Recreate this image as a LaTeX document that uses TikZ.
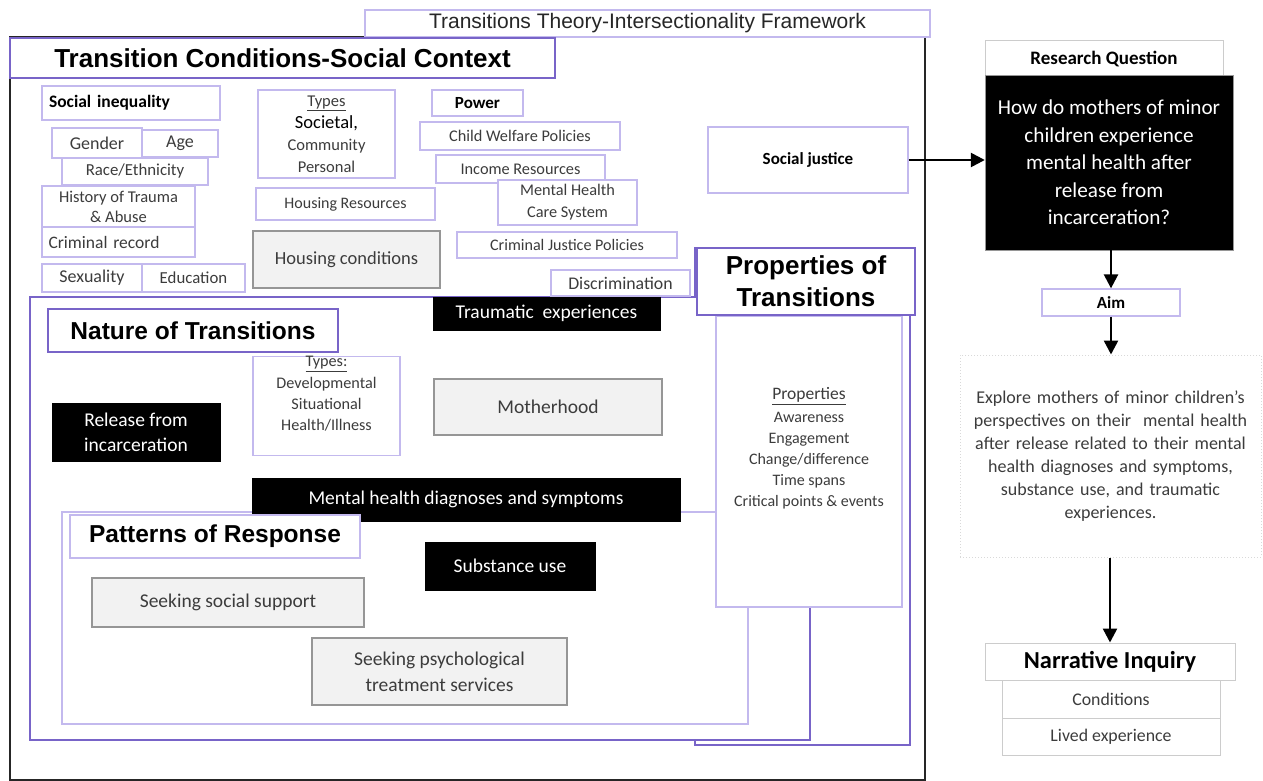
\documentclass[tikz,border=0pt]{standalone}
\usepackage{fontspec}
\setmainfont{Carlito}
\newfontfamily\arialf{Liberation Sans}
\usetikzlibrary{arrows.meta}
\definecolor{purp}{RGB}{120,100,200}
\definecolor{lpurp}{RGB}{195,185,238}
\definecolor{gfill}{RGB}{242,242,242}
\definecolor{gline}{RGB}{150,150,150}
\definecolor{gtext}{RGB}{60,60,60}
\tikzset{
    >={Triangle[length=14pt,width=14pt]}, % filled arrow heads
    frame/.style={draw=black!85, line width=2.5pt},
    head/.style={draw=purp, line width=2.5pt, fill=white, inner sep=0pt, align=center, font=\arialf\bfseries\fontsize{26}{32}\selectfont},
    box/.style={draw=lpurp, line width=1.3pt, fill=white, inner sep=0pt, align=center, text=gtext},
    blk/.style={draw=black, fill=black, text=white, inner sep=0pt, align=center, font=\fontsize{19.5}{25}\selectfont},
    gry/.style={draw=gline, line width=1.5pt, fill=gfill, inner sep=0pt, align=center, text=gtext, font=\fontsize{19.5}{26}\selectfont},
    side/.style={draw=black!20, line width=1pt, fill=white, inner sep=0pt, align=center},
    link/.style={->, line width=2.5pt},
}
\begin{document}
\begin{tikzpicture}[x=1pt, y=-1pt]
    \useasboundingbox (0,0) rectangle (1263,781);

    % framework frames
    \draw[frame] (10,37) rectangle (925,780);
    \draw[draw=purp, line width=2pt] (695,248) rectangle (910,745);
    \draw[draw=purp, line width=2pt, fill=white] (30,297) rectangle (810,740);
    \draw[draw=lpurp, line width=1.5pt, fill=white] (62,512) rectangle (748,724);

    \node[box, draw=lpurp, minimum width=565pt, minimum height=27pt, text=black!85, font=\arialf\fontsize{21}{22}\selectfont] (fw) at (647.5,23.5) {Transitions Theory-Intersectionality Framework};
    \node[head, minimum width=545pt, minimum height=40pt] (ctx) at (282.5,58) {Transition Conditions-Social Context};

    % social context
    \node[box, minimum width=178pt, minimum height=34pt, text width=164pt, align=left, text=black, font=\bfseries\fontsize{17.5}{20}\selectfont] (ineq) at (131,103) {Social inequality};
    \node[box, minimum width=90pt, minimum height=30pt, font=\fontsize{18}{20}\selectfont] (gender) at (97,143) {Gender};
    \node[box, minimum width=76pt, minimum height=27pt, font=\fontsize{18}{20}\selectfont] (age) at (180,143.5) {Age};
    \node[box, minimum width=146pt, minimum height=27pt, font=\fontsize{16.8}{20}\selectfont] (race) at (135,171.5) {Race/Ethnicity};
    \node[box, minimum width=153pt, minimum height=41pt, font=\fontsize{16.5}{20}\selectfont] (trauma) at (118.5,206.5) {History of Trauma\\ \& Abuse};
    \node[box, minimum width=153pt, minimum height=30pt, text width=140pt, align=left, font=\fontsize{17.5}{20}\selectfont] (record) at (118.5,242) {Criminal record};
    \node[box, minimum width=100pt, minimum height=28pt, font=\fontsize{18}{20}\selectfont] (sex) at (92,278) {Sexuality};
    \node[box, minimum width=103pt, minimum height=28pt, font=\fontsize{16.8}{20}\selectfont] (edu) at (193.5,278) {Education};

    \node[box, minimum width=137pt, minimum height=88pt, font=\fontsize{16.5}{22}\selectfont] (levels) at (326.5,134) {\underline{Types}\\ {\fontsize{18.5}{22}\selectfont\color{black}Societal,}\\ Community\\ Personal};
    \node[box, minimum width=179pt, minimum height=32pt, font=\fontsize{16}{20}\selectfont] (housres) at (345.5,204) {Housing Resources};
    \node[gry, minimum width=187pt, minimum height=57pt, font=\fontsize{18.5}{22}\selectfont] (houscond) at (346.5,259.5) {Housing conditions};

    \node[box, minimum width=91pt, minimum height=26pt, text=black, font=\bfseries\fontsize{17}{20}\selectfont] (power) at (477.5,103) {Power};
    \node[box, minimum width=200pt, minimum height=28pt, font=\fontsize{16.3}{20}\selectfont] (welfare) at (520,136) {Child Welfare Policies};
    \node[box, minimum width=169pt, minimum height=28pt, font=\fontsize{16.3}{20}\selectfont] (income) at (520.5,169) {Income Resources};
    \node[box, minimum width=139pt, minimum height=45pt, font=\fontsize{16.3}{22}\selectfont] (mhcare) at (567.5,202.5) {Mental Health\\ Care System};
    \node[box, minimum width=220pt, minimum height=26pt, font=\fontsize{16.1}{20}\selectfont] (justice) at (567,245) {Criminal Justice Policies};
    \node[box, minimum width=139pt, minimum height=26pt, font=\fontsize{17.8}{20}\selectfont] (discr) at (620.5,283) {Discrimination};
    \node[box, minimum width=200pt, minimum height=66pt, text=black, font=\bfseries\fontsize{17}{20}\selectfont] (sj) at (808,160) {Social justice};

    % properties of transitions
    \node[box, minimum width=186pt, minimum height=291pt, font=\fontsize{16}{21}\selectfont] (props) at (809,461.5) {{\fontsize{17.5}{21}\selectfont\underline{Properties}}\\[2pt] Awareness\\ Engagement\\ Change/difference\\ Time spans\\ Critical points \& events\\[8pt]};
    \node[head, minimum width=218pt, minimum height=67pt] (propt) at (806,281.5) {Properties of\\ Transitions};

    % nature of transitions
    \node[head, draw=purp, line width=2pt, minimum width=290pt, minimum height=43pt, font=\arialf\bfseries\fontsize{24.5}{28}\selectfont] (nature) at (193,330.5) {Nature of Transitions};
    \node[blk, minimum width=227pt, minimum height=33pt] (traum) at (546.5,313.5) {Traumatic\ \ experiences};
    \node[box, minimum width=147pt, minimum height=98pt, font=\fontsize{16.2}{21}\selectfont] (types) at (326.5,406) {\underline{Types:}\\[1pt] Developmental\\ Situational\\ Health/Illness\\[4pt]};
    \node[blk, minimum width=168pt, minimum height=58pt] (release) at (136,432) {Release from\\ incarceration};
    \node[gry, minimum width=228pt, minimum height=56pt] (mother) at (548,407) {Motherhood};
    \node[blk, minimum width=428pt, minimum height=43pt] (mhdiag) at (466,499.5) {Mental health diagnoses and symptoms};

    % patterns of response
    \node[head, draw=lpurp, line width=1.5pt, minimum width=290pt, minimum height=43pt, font=\arialf\bfseries\fontsize{24.5}{28}\selectfont] (patterns) at (215,536.5) {Patterns of Response};
    \node[blk, minimum width=170pt, minimum height=48pt] (subst) at (510,566) {Substance use};
    \node[gry, minimum width=272pt, minimum height=49pt] (social) at (228,602.5) {Seeking social support};
    \node[gry, minimum width=255pt, minimum height=67pt] (psych) at (439.5,671.5) {Seeking psychological\\ treatment services};

    % research design
    \node[side, minimum width=238pt, minimum height=36pt, font=\bfseries\fontsize{19}{22}\selectfont] (rq) at (1104,59) {Research Question};
    \node[blk, draw=gline, minimum width=248pt, minimum height=175pt, font=\fontsize{21.2}{27.5}\selectfont] (q) at (1109,162.5) {How do mothers of minor\\ children experience\\ mental health after\\ release from\\ incarceration?};
    \node[box, minimum width=138pt, minimum height=27pt, text=black, font=\bfseries\fontsize{17}{20}\selectfont] (aim) at (1111,302.5) {Aim};
    \node[side, draw=black!15, dotted, minimum width=301pt, minimum height=202pt, text width=298pt, text=gtext, font=\fontsize{18}{23}\selectfont] (explore) at (1110.5,456) {Explore mothers of minor children's\\ perspectives on their\ \ mental health\\ after release related to their mental\\ health diagnoses and symptoms,\\ substance use, and traumatic\\ experiences.};
    \node[side, minimum width=250pt, minimum height=37pt, font=\bfseries\fontsize{24.4}{28}\selectfont] (narr) at (1110,661.5) {Narrative Inquiry};
    \node[side, minimum width=218pt, minimum height=38pt, text=gtext, font=\fontsize{17.8}{20}\selectfont] (cond) at (1111,699) {Conditions};
    \node[side, minimum width=218pt, minimum height=37pt, text=gtext, font=\fontsize{17.8}{20}\selectfont] (lived) at (1111,736.5) {Lived experience};

    \draw[link] (sj.east) -- (sj.east -| q.west);
    \draw[link] (q.south -| aim.north) -- (aim.north);
    \draw[link] (aim.south) -- (aim.south |- explore.north);
    \draw[link] (explore.south -| narr.north) -- (narr.north);
\end{tikzpicture}
\end{document}
